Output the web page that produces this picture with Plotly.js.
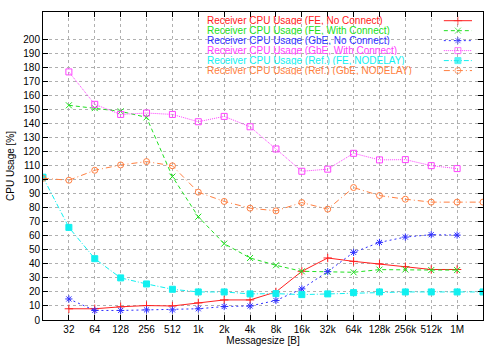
<!DOCTYPE html>
<html>
<head>
<meta charset="utf-8">
<script src="https://cdn.plot.ly/plotly-3.0.1.min.js"></script>
<style>
  html, body { margin: 0; padding: 0; background: #ffffff; }
  #chart { width: 500px; height: 350px; }
</style>
</head>
<body>
<div id="chart"></div>
<script>
// message sizes; the first and last only exist for the reference curves
const sizesAll = ['16', '32', '64', '128', '256', '512', '1k', '2k', '4k', '8k',
  '16k', '32k', '64k', '128k', '256k', '512k', '1M', '2M'];
const sizes = sizesAll.slice(1, -1);

const feNoConnect   = [8, 8, 9.4, 10.3, 10, 12.2, 14.3, 14.3, 20, 34.7, 44.2, 41.8, 40, 38, 36, 36];
const feConnect     = [153, 151, 148.7, 144.4, 102.2, 73.6, 54.4, 44.2, 39, 34.7, 34.2, 34, 35.9, 36, 35.6, 35.6];
const gbeNoConnect  = [15, 6.8, 6.8, 7.2, 7.2, 8, 9.6, 10, 13.9, 22.2, 34.5, 48.2, 55.3, 59.1, 60.8, 60.5];
const gbeConnect    = [176.8, 153.7, 146.5, 147.5, 146.5, 141.3, 145.1, 137.7, 121.9, 106, 107.5, 118.8, 114.1, 114.3, 110, 107.9];
const refFeNodelay  = [101.8, 66, 43.7, 30, 25.7, 21.9, 20, 20, 18.6, 18.8, 18.1, 18.6, 19.5, 20, 20, 20, 20, 20];
const refGbeNodelay = [101, 99.6, 106.7, 110.5, 112.9, 109.9, 91.1, 84.5, 79.7, 77.8, 83.7, 79, 94.4, 88.7, 86.1, 84, 84, 84];

const series = [
  { name: 'Receiver CPU Usage (FE, No Connect)', x: sizes, y: feNoConnect,
    color: '#ff2020', dash: 'solid', symbol: 'cross-thin-open' },
  { name: 'Receiver CPU Usage (FE, With Connect)', x: sizes, y: feConnect,
    color: '#20e020', dash: '4px,3px', symbol: 'x-thin-open' },
  { name: 'Receiver CPU Usage (GbE, No Connect)', x: sizes, y: gbeNoConnect,
    color: '#3030ff', dash: '2px,3px', symbol: 'asterisk-open' },
  { name: 'Receiver CPU Usage (GbE, With Connect)', x: sizes, y: gbeConnect,
    color: '#ff40ff', dash: '1px,1px', symbol: 'square-open' },
  { name: 'Receiver CPU Usage (Ref.) (FE, NODELAY)', x: sizesAll, y: refFeNodelay,
    color: '#10f0f0', dash: '5px,2px,1px,2px', symbol: 'square' },
  { name: 'Receiver CPU Usage (Ref.) (GbE, NODELAY)', x: sizesAll, y: refGbeNodelay,
    color: '#ff7f40', dash: '6px,3px,1px,3px', symbol: 'circle-open' }
];

const font = 'Liberation Sans, Arial, sans-serif';

const traces = series.map(s => ({
  x: s.x,
  y: s.y,
  type: 'scatter',
  mode: 'lines+markers',
  line: { color: s.color, width: 1, dash: s.dash },
  marker: { symbol: s.symbol, size: 6, color: s.color, line: { color: s.color, width: 1 } },
  showlegend: false,
  hoverinfo: 'skip'
}));

// gnuplot style key: text on the left, sample on the right
const keyTop = 0.9718, keyStep = 0.0324;
series.forEach((s, i) => {
  const row = keyTop - i * keyStep;
  traces.push({
    x: [0.911, 0.943, 0.975],
    y: [row, row, row],
    xaxis: 'x2', yaxis: 'y2',
    type: 'scatter',
    mode: 'lines+markers',
    line: { color: s.color, width: 1, dash: s.dash },
    marker: { symbol: s.symbol, size: [0, 6, 0], color: s.color, line: { color: s.color, width: 1 } },
    showlegend: false,
    hoverinfo: 'skip'
  });
});

const annotations = series.map((s, i) => ({
  text: s.name,
  xref: 'paper', yref: 'paper',
  x: 0.370, y: keyTop - i * keyStep,
  xanchor: 'left', yanchor: 'middle',
  height: 9,
  borderpad: 0,
  showarrow: false,
  font: { family: font, size: 10, color: s.color }
}));

const layout = {
  width: 500,
  height: 350,
  margin: { l: 43, r: 17, t: 12, b: 29.5 },
  paper_bgcolor: '#ffffff',
  plot_bgcolor: '#ffffff',
  font: { family: font, size: 10, color: '#000000' },
  showlegend: false,
  xaxis: {
    type: 'category',
    categoryorder: 'array',
    categoryarray: sizesAll,
    range: [0, 17],
    tickmode: 'array',
    tickvals: sizes,
    ticktext: sizes,
    ticks: 'inside',
    ticklen: 5,
    tickcolor: '#000000',
    showgrid: true,
    gridcolor: '#b0b0b0',
    griddash: 'dot',
    gridwidth: 1,
    showline: true,
    linecolor: '#000000',
    linewidth: 1,
    mirror: 'allticks',
    zeroline: false,
    title: { text: 'Messagesize [B]', font: { family: font, size: 10 }, standoff: 2 }
  },
  yaxis: {
    range: [0, 219.5],
    tickmode: 'array',
    tickvals: [0, 10, 20, 30, 40, 50, 60, 70, 80, 90, 100, 110, 120, 130, 140, 150, 160, 170, 180, 190, 200],
    ticks: 'inside',
    ticklen: 5,
    tickcolor: '#000000',
    showgrid: true,
    gridcolor: '#b0b0b0',
    griddash: 'dot',
    gridwidth: 1,
    showline: true,
    linecolor: '#000000',
    linewidth: 1,
    mirror: 'allticks',
    zeroline: false,
    title: { text: 'CPU Usage [%]', font: { family: font, size: 10 }, standoff: 6 }
  },
  xaxis2: { overlaying: 'x', range: [0, 1], visible: false, fixedrange: true },
  yaxis2: { overlaying: 'y', range: [0, 1], visible: false, fixedrange: true },
  // the key area hides the grid, as in gnuplot
  shapes: [{
    type: 'rect', xref: 'paper', yref: 'paper', layer: 'between',
    x0: 0.366, x1: 0.998, y0: 0.7925, y1: 0.998,
    fillcolor: '#ffffff', line: { width: 0 }
  }],
  annotations: annotations
};

Plotly.newPlot('chart', traces, layout, { staticPlot: true, displayModeBar: false });
</script>
</body>
</html>
